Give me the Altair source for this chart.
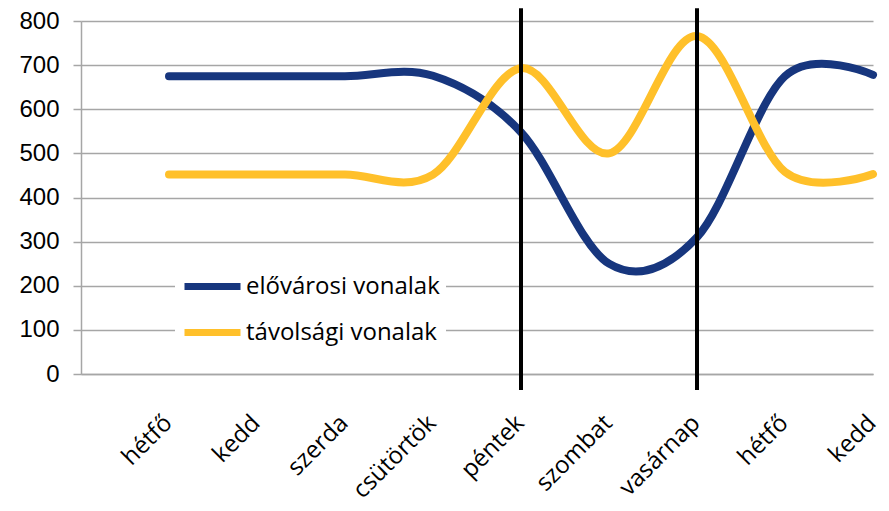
import altair as alt
import pandas as pd

days = ["hétfő", "kedd", "szerda", "csütörtök", "péntek", "szombat", "vasárnap", "hétfő", "kedd"]
positions = [1, 2, 3, 4, 5, 6, 7, 8, 9]
series_names = ["elővárosi vonalak", "távolsági vonalak"]
elovarosi = [675, 675, 675, 676, 548, 250, 310, 675, 678]
tavolsagi = [452, 452, 452, 452, 693, 500, 766, 458, 453]
marker_positions = [5, 7]
marker_low = [-36, -36]
marker_high = [829, 829]

BLUE = "#17367E"
YELLOW = "#FFC02A"

rows = []
for name, vals in zip(series_names, [elovarosi, tavolsagi]):
    for p, d, v in zip(positions, days, vals):
        rows.append({"pos": p, "nap": d, "ertek": v, "sorozat": name, "rend": series_names.index(name)})
df = pd.DataFrame(rows)
rules_df = pd.DataFrame({"pos": marker_positions, "lo": marker_low, "hi": marker_high})

label_map = "{" + ", ".join(f"'{p}': '{d}'" for p, d in zip(positions, days)) + "}"
label_expr = f"{label_map}[datum.value] || ''"

x_scale = alt.Scale(domain=[0, 9], nice=False, zero=False)
y_scale = alt.Scale(domain=[0, 800], nice=False)

lines = alt.Chart(df).mark_line(
    interpolate="cardinal", tension=0, strokeWidth=8, strokeCap="round", strokeJoin="round"
).encode(
    x=alt.X("pos:Q", scale=x_scale, title=None,
            axis=alt.Axis(values=positions, labelExpr=label_expr, labelAngle=-45,
                          labelAlign="right", labelBaseline="alphabetic",
                          labelFont="Open Sans", labelFontSize=24, labelColor="#000000",
                          labelPadding=50, labelOffset=4, labelOverlap=False,
                          ticks=False, grid=False,
                          domainColor="#a6a6a6", domainWidth=1.5)),
    y=alt.Y("ertek:Q", scale=y_scale, title=None,
            axis=alt.Axis(values=[0, 100, 200, 300, 400, 500, 600, 700, 800],
                          labelFont="Liberation Sans", labelFontSize=24, labelColor="#000000",
                          labelPadding=14, tickSize=8, tickColor="#a6a6a6", tickWidth=1.5,
                          gridColor="#a6a6a6", gridWidth=1.5,
                          domainColor="#a6a6a6", domainWidth=1.5)),
    color=alt.Color("sorozat:N", sort=series_names,
                    scale=alt.Scale(domain=series_names, range=[BLUE, YELLOW]),
                    legend=alt.Legend(title=None, orient="none", legendX=94, legendY=228,
                                      fillColor="#ffffff", padding=6,
                                      symbolType="stroke", symbolSize=3136, symbolStrokeWidth=7,
                                      labelFont="Open Sans", labelFontSize=24, labelColor="#000000",
                                      labelLimit=0, labelOffset=2, rowPadding=-5)),
    order=alt.Order("rend:Q"),
    detail="sorozat:N",
)

rules = alt.Chart(rules_df).mark_rule(color="#000000", strokeWidth=4, clip=False).encode(
    x=alt.X("pos:Q", scale=x_scale),
    y=alt.Y("lo:Q", scale=y_scale),
    y2="hi:Q",
)

chart = alt.layer(lines, rules).properties(
    width=792, height=353,
    autosize=alt.AutoSizeParams(type="none"),
    padding={"left": 73, "top": 13, "right": 8, "bottom": 129},
).configure_view(stroke=None).configure_axis(labelFlush=False)

chart.save("out.html", embed_options={"renderer": "svg", "actions": False})
